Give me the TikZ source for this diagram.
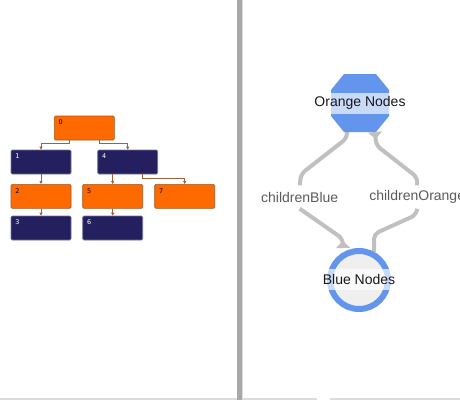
\documentclass[tikz,border=0pt]{standalone}
\usepackage{fontspec}
\setmainfont{Liberation Sans}
\newfontfamily\digitfont{DejaVu Sans}
\usetikzlibrary{arrows.meta,shapes.geometric,calc}
\definecolor{org}{HTML}{FF6A00}
\definecolor{orgline}{HTML}{A0561E}
\definecolor{navy}{HTML}{24205F}
\definecolor{navyline}{HTML}{75739A}
\definecolor{treelink}{HTML}{A0603A}
\definecolor{gblue}{HTML}{6495ED}
\definecolor{gline}{HTML}{C0C0C0}
\definecolor{fillgray}{HTML}{EFEFEF}
\definecolor{divgray}{HTML}{A8A8A8}
\definecolor{divlight}{HTML}{DCDCDC}
\definecolor{edgetext}{HTML}{5A5A5A}
\pgfdeclarelayer{bg}
\pgfsetlayers{bg,main}
\tikzset{
  treebox/.style={draw, rounded corners=1.2pt, minimum width=60pt, minimum height=24pt, inner sep=0pt, line width=0.6pt},
  orangebox/.style={treebox, fill=org, draw=orgline},
  bluebox/.style={treebox, fill=navy, draw=navyline},
  num/.style={font=\digitfont\fontsize{6.5}{6.5}\selectfont, inner sep=0pt, anchor=north west, xshift=4.5pt, yshift=-4.2pt},
  treelinkstyle/.style={draw=treelink, line width=0.8pt, -{Triangle[width=3pt,length=3pt]}},
  glink/.style={draw=gline, line width=4pt, rounded corners=5pt},
  garrow/.style={glink, -{Triangle[reversed,width=14pt,length=7pt]}},
  band/.style={fill=white, fill opacity=0.65, text opacity=1, text=black!90, font=\fontsize{14}{16}\selectfont, inner xsep=1pt, inner ysep=0pt, minimum height=21pt},
  elabel/.style={text=edgetext, font=\fontsize{14}{16}\selectfont, inner sep=0pt, minimum height=23pt}
}
\begin{document}
\begin{tikzpicture}[x=1pt,y=-1pt]
\useasboundingbox (0,0) rectangle (460,400);
\clip (0,0) rectangle (460,400);
% divider and bottom line
\fill[divgray] (236.7,0) rectangle (241.7,400);
\fill[divlight] (241.7,0) rectangle (242.7,400);
\fill[divlight] (0,398.4) rectangle (236.7,400);
\fill[divlight] (242.7,398.4) rectangle (316.7,400);
\fill[divlight] (330,398.4) rectangle (460,400);
% tree
\node[orangebox] (n0) at (84.3,128) {};
\node[bluebox] (n1) at (41,162) {};
\node[bluebox] (n4) at (127.7,162) {};
\node[orangebox] (n2) at (41,196.3) {};
\node[orangebox] (n5) at (112.7,196.3) {};
\node[orangebox] (n7) at (184.7,196.3) {};
\node[bluebox] (n3) at (41,228) {};
\node[bluebox] (n6) at (112.7,228) {};
\node[num, text=black] (t0) at (n0.north west) {0};
\node[num, text=white] (t1) at (n1.north west) {1};
\node[num, text=black] (t2) at (n2.north west) {2};
\node[num, text=white] (t3) at (n3.north west) {3};
\node[num, text=white] (t4) at (n4.north west) {4};
\node[num, text=black] (t5) at (n5.north west) {5};
\node[num, text=white] (t6) at (n6.north west) {6};
\node[num, text=black] (t7) at (n7.north west) {7};
\draw[treelinkstyle] ([xshift=-15pt]n0.south) -- ++(0,3.3) -| (n1.north);
\draw[treelinkstyle] ([xshift=15pt]n0.south) -- ++(0,3.3) -| (n4.north);
\draw[treelinkstyle] (n1) -- (n2);
\draw[treelinkstyle] ([xshift=-15pt]n4.south) -- (n5.north);
\draw[treelinkstyle] ([xshift=15pt]n4.south) -- ++(0,4.3) -| (n7.north);
\draw[treelinkstyle] (n2) -- (n3);
\draw[treelinkstyle] (n5) -- (n6);
% right graph
\coordinate (oct) at (360,103);
\fill[gblue] ($(oct)+(-16,-29)$) -- ($(oct)+(16,-29)$) -- ($(oct)+(29,-13)$) -- ($(oct)+(29,13)$)
  -- ($(oct)+(16,29)$) -- ($(oct)+(-16,29)$) -- ($(oct)+(-29,13)$) -- ($(oct)+(-29,-13)$) -- cycle;
\node[band] (octtxt) at (360,103.3) {Orange Nodes};
\node[circle, draw=gblue, line width=6pt, fill=fillgray, minimum size=58pt, inner sep=0pt] (circ) at (359,280) {};
\node[band] (circtxt) at (359,279.5) {Blue Nodes};
\node[elabel] (lb) at (299.7,197) {childrenBlue};
\node[elabel] (lo) at (417.2,197) {childrenOrange};
\begin{pgfonlayer}{bg}
\draw[glink] ([xshift=-13pt,yshift=-25pt]oct) -- ++(0,10) -- ++(-46,36) -- (lb.north);
\draw[glink] ([xshift=15pt,yshift=-4pt]circ.north) -- ++(0,-18) -- ++(42,-19) -- (lo.south);
\end{pgfonlayer}
\draw[garrow] (lb.south) -- ++(43,30) -- ([xshift=-16pt]circ.north);
\draw[garrow] (lo.north) -- ++(0,-8) -- ++(-41,-32) -- ([xshift=15pt,yshift=-29pt]oct);
\end{tikzpicture}
\end{document}
